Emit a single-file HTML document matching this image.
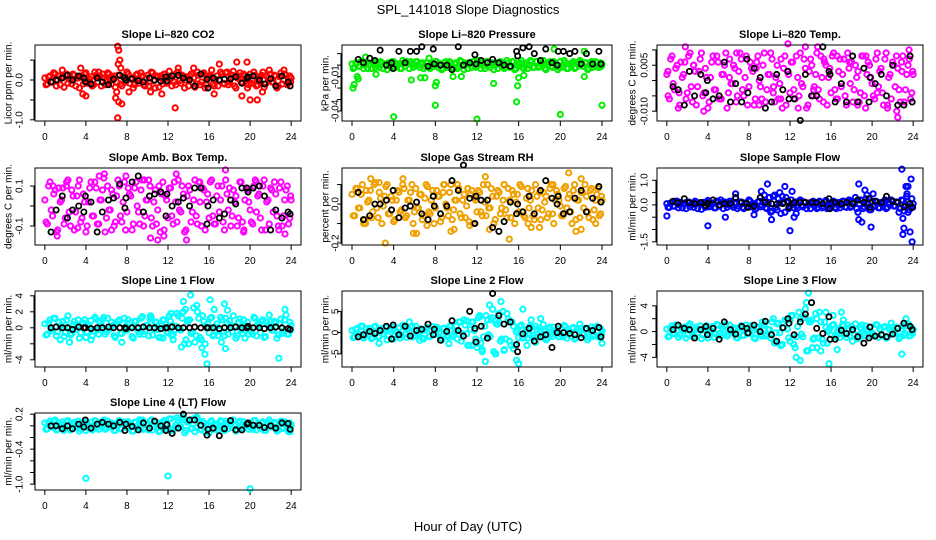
<!DOCTYPE html>
<html><head><meta charset="utf-8"><style>
html,body{margin:0;padding:0;background:#fff;}
svg{display:block;font-family:"Liberation Sans",sans-serif;}
</style></head><body>
<svg id="chart" width="936" height="540" viewBox="0 0 936 540" xmlns="http://www.w3.org/2000/svg">
<text x="468" y="14" text-anchor="middle" font-size="13">SPL_141018  Slope Diagnostics</text>
<text x="468" y="531" text-anchor="middle" font-size="13">Hour of Day (UTC)</text>
</svg>
<script>
const HC=[0,0.25,0.5,0.75,1,1.25,1.5,1.75,2,2.25,2.5,2.75,3,3.25,3.5,3.75,4,4.25,4.5,4.75,5,5.25,5.5,5.75,6,6.25,6.5,6.75,7,7.25,7.5,7.75,8,8.25,8.5,8.75,9,9.25,9.5,9.75,10,10.25,10.5,10.75,11,11.25,11.5,11.75,12,12.25,12.5,12.75,13,13.25,13.5,13.75,14,14.25,14.5,14.75,15,15.25,15.5,15.75,16,16.25,16.5,16.75,17,17.25,17.5,17.75,18,18.25,18.5,18.75,19,19.25,19.5,19.75,20,20.25,20.5,20.75,21,21.25,21.5,21.75,22,22.25,22.5,22.75,23,23.25,23.5,23.75,24];
const HD=[0.12,0.37,0.62,0.87,1.12,1.37,1.62,1.87,2.12,2.37,2.62,2.87,3.12,3.37,3.62,3.87,4.12,4.37,4.62,4.87,5.12,5.37,5.62,5.87,6.12,6.37,6.62,6.87,7.12,7.37,7.62,7.87,8.12,8.37,8.62,8.87,9.12,9.37,9.62,9.87,10.12,10.37,10.62,10.87,11.12,11.37,11.62,11.87,12.12,12.37,12.62,12.87,13.12,13.37,13.62,13.87,14.12,14.37,14.62,14.87,15.12,15.37,15.62,15.87,16.12,16.37,16.62,16.87,17.12,17.37,17.62,17.87,18.12,18.37,18.62,18.87,19.12,19.37,19.62,19.87,20.12,20.37,20.62,20.87,21.12,21.37,21.62,21.87,22.12,22.37,22.62,22.87,23.12,23.37,23.62,23.87,23.95];
const HK=[0.6,1.1,1.7,2.2,2.7,3.3,3.8,3.95,4.5,5.1,5.6,6.2,6.7,7.3,7.8,7.9,8.5,9.1,9.6,10.2,10.7,11.3,11.8,11.9,12.4,13,13.5,14.1,14.6,15.2,15.8,15.9,16.4,17,17.5,18.1,18.6,19.2,19.7,19.8,20.3,20.9,21.4,22,22.5,23.1,23.7,23.9];
const xTicks=[0,4,8,12,16,20,24];

const c1=[.05,-.1,.1,-.05,.15,0,-.12,.08,.12,-.08,.02,.15,-.15,.05,.1,-.1,.18,-.05,.08,-.12,.12,.2,-.15,.05,0,.15,-.1,.1,-.05,.12,-.15,.08,.2,-.08,.05,-.12,.15,0,.1,-.15,.12,-.05,.18,-.2,.08,.1,-.1,.15,-.05,.05,.12,-.12,.2,-.08,.1,0,-.15,.15,.05,-.1,.12,-.05,.18,-.12,.08,.25,-.15,.1,0,.15,-.1,.2,-.05,.12,-.15,.05,.18,-.08,.1,-.2,.15,0,.12,-.12,.08,.2,-.1,.05,.15,-.05,.1,-.15,.18,0,.12,-.08,.05];
const d1=[-.12,.08,-.05,.18,-.15,.1,.05,-.18,.15,.02,-.1,.12,.05,-.2,.1,.15,-.08,.02,-.15,.2,-.05,.1,.15,-.12,.18,-.02,.05,-.18,.12,-.1,.08,-.05,.15,.02,-.2,.12,-.08,.18,-.12,.05,-.15,.2,-.02,.1,-.18,.05,.15,-.08,.22,-.15,-.05,.18,-.02,.12,-.2,.08,.1,-.05,-.18,.2,-.12,.15,-.2,.05,.12,-.1,.02,-.15,.2,-.08,.18,-.12,.05,.22,-.2,.1,-.05,.15,.02,-.12,-.08,.2,-.15,.05,.12,-.18,.1,.25,-.05,.12,-.2,.08,-.1,.15,-.12,.1,-.05];
const k1=[-.05,0,.05,.12,0,.1,.05,-.05,-.1,.05,-.05,-.12,.02,.12,.05,0,.03,-.02,-.05,.05,0,-.03,.08,-.02,.1,.12,.05,0,-.15,.15,.02,-.2,.05,0,.02,.03,.08,-.08,.05,.08,.1,0,-.1,.03,-.15,.1,-.05,-.15];
const o1=[[7.1,.85],[7.2,.75],[7.3,.5],[7.15,.4],[7.4,.3],[7,-.3],[6.9,-.45],[7.2,-.55],[7.5,-.6],[7.1,-.95],[12.7,-.7],[13,.3],[17,.4],[18.7,.45],[19.7,.45],[20,-.5],[20.7,-.5],[19.2,-.4],[3.5,.3],[3.7,-.35],[4,-.4],[1.7,.25],[23.3,.25],[8.2,-.3],[10.3,-.3],[11.4,-.35],[21.2,-.3],[14.5,.3],[16.5,-.35]];

const c2=[.001,-.002,.002,-.001,.003,0,-.003,.001,.002,-.002,0,.003,-.003,.001,.002,-.002,.003,-.001,.001,-.003,.002,.003,-.003,.001,0,.003,-.002,.002,-.001,.002,-.003,.001,.003,-.002,.001,-.003,.003,0,.002,-.003,.002,-.001,.003,-.004,.001,.002,-.002,.003,-.001,.001,.002,-.003,.003,-.002,.002,0,-.003,.003,.001,-.002,.002,-.001,.003,-.003,.001,.004,-.003,.002,0,.003,-.002,.003,-.001,.002,-.003,.001,.003,-.002,.002,-.004,.003,0,.002,-.003,.001,.003,-.002,.001,.003,-.001,.002,-.003,.003,0,.002,-.002,.001];
const d2=[-.003,.002,-.001,.003,-.003,.002,.001,-.003,.003,0,-.002,.002,.001,-.004,.002,.003,-.002,0,-.003,.004,-.001,.002,.003,-.002,.003,0,.001,-.003,.002,-.002,.002,-.001,.003,0,-.004,.002,-.002,.003,-.002,.001,-.003,.004,0,.002,-.003,.001,.003,-.002,.004,-.003,-.001,.003,0,.002,-.004,.002,.002,-.001,-.003,.004,-.002,.003,-.004,.001,.002,-.002,0,-.003,.004,-.002,.003,-.002,.001,.004,-.004,.002,-.001,.003,0,-.002,-.002,.004,-.003,.001,.002,-.003,.002,.004,-.001,.002,-.004,.002,-.002,.003,-.002,.002,-.001];
const k2=[.005,.002,.006,.004,.013,0,.002,-.003,.012,.002,.012,.012,.016,-.001,.014,.001,0,0,-.004,.016,0,.002,.009,.001,.004,.002,.005,.002,0,-.001,.012,.008,.015,.016,.01,.004,.014,.002,0,.012,.012,.01,.012,.001,.01,.001,.012,.001];
const o2=[[.1,-.02],[.2,-.017],[.5,-.01],[.6,-.012],[4,-.045],[8,-.035],[8,-.018],[8.1,-.015],[12,-.047],[13.6,-.016],[15.8,-.032],[15.9,-.018],[16,-.011],[20,-.043],[24,-.035],[19.4,.014],[22.3,.012],[5.7,-.013],[6.6,-.011],[7,-.011],[9.7,-.01],[10.5,-.01],[1.3,.007],[7.4,.006],[2.3,-.008],[16.5,-.009],[22.3,-.01]];

const c3=[.002,-.006,.008,-.003,.005,-.008,.001,.006,-.004,.009,-.007,.003,-.002,.007,-.005,.004,-.009,.001,.008,-.003,.006,-.006,.002,.009,-.004,-.001,.005,-.007,.003,.007,-.005,.008,-.002,.004,-.008,.006,0,-.006,.009,-.003,.002,.007,-.007,.005,-.001,-.009,.008,.003,-.004,.006,-.006,.001,.009,-.002,.004,-.008,.007,-.005,.002,-.003,.008,-.007,.005,.001,-.004,.009,-.006,.003,-.002,.007,-.008,.004,.006,-.003,.001,-.007,.008,-.005,.002,.005,-.001,-.006,.009,.003,-.004,.007,-.008,.002,.006,-.002,.004,-.007,.008,-.003,.005,-.006,.002];
const d3=[-.005,.007,-.001,.004,-.009,.006,.002,-.006,.008,-.002,.005,-.008,.003,.009,-.004,.001,-.007,.006,-.003,.008,-.006,.002,.005,-.009,.007,-.001,.004,-.005,.009,-.003,.001,-.008,.006,.003,-.006,.008,-.002,.005,-.007,.002,.009,-.004,.001,-.006,.007,.004,-.008,.002,.006,-.003,.008,-.005,-.001,.007,-.009,.003,.005,-.002,.009,-.006,.001,.006,-.008,.004,.008,-.003,-.006,.007,.002,-.005,.009,-.001,-.007,.005,.003,-.004,.008,-.009,.006,.001,-.005,.007,-.002,.004,-.008,.009,.001,-.006,.005,.008,-.003,.006,-.007,.002,.007,-.004,.003];
const k3=[-.002,-.003,-.008,.003,-.005,.002,-.004,0,-.006,-.005,.006,-.007,-.001,-.007,.007,-.004,.004,.001,-.009,-.007,.002,-.003,.003,-.006,-.006,-.013,.002,-.005,-.005,.011,.003,.002,-.007,-.001,-.007,.008,-.007,.004,-.007,.001,-.001,.002,-.005,.005,-.008,-.008,.008,-.007];
const o3=[[.1,.003],[1.8,.011],[3.6,-.01],[11.8,.012],[12.8,-.009],[14.7,.011],[16.6,.008],[22.4,-.01],[22.5,-.012],[23.6,.01],[18.6,-.008],[21.5,-.009],[9,-.008],[6.8,.009],[13.5,.011],[1.2,-.004],[2.6,.005],[5.3,-.006],[8.7,.004],[10.4,-.002],[14.3,-.003],[17.8,.006],[20.5,-.004],[22.9,.003],[6.1,.001],[15.3,.007],[11.1,-.006],[19.4,.008]];

const c4=[.03,-.09,.12,-.05,.08,-.12,.02,.09,-.06,.13,-.1,.05,-.03,.1,-.08,.06,-.13,.02,.12,-.05,.09,-.09,.03,.14,-.06,-.02,.08,-.1,.05,.1,-.08,.12,-.03,.06,-.12,.09,0,-.09,.13,-.05,.03,.1,-.1,.08,-.02,-.13,.12,.05,-.06,.09,-.09,.02,.13,-.03,.06,-.12,.1,-.08,.03,-.05,.12,-.1,.08,.02,-.06,.13,-.09,.05,-.03,.1,-.12,.06,.09,-.05,.02,-.1,.12,-.08,.03,.08,-.02,-.09,.13,.05,-.06,.1,-.12,.03,.09,-.03,.06,-.1,.12,-.05,.08,-.09,.03];
const d4=[-.08,.1,-.02,.06,-.13,.09,.03,-.09,.12,-.03,.08,-.12,.05,.13,-.06,.02,-.1,.09,-.05,.12,-.09,.03,.08,-.13,.1,-.02,.06,-.08,.13,-.05,.02,-.12,.09,.05,-.09,.12,-.03,.08,-.1,.03,.13,-.06,.02,-.09,.1,.06,-.12,.03,.09,-.05,.12,-.08,-.02,.1,-.13,.05,.08,-.03,.13,-.09,.02,.09,-.12,.06,.12,-.05,-.09,.1,.03,-.08,.13,-.02,-.1,.08,.05,-.06,.12,-.13,.09,.02,-.08,.1,-.03,.06,-.12,.13,.02,-.09,.08,.12,-.05,.09,-.1,.03,.1,-.06,.05];
const k4=[-.13,-.02,.05,-.06,-.02,0,-.03,.05,.02,-.13,-.03,.03,.04,.11,-.01,.04,.12,.15,-.03,.05,.06,.07,-.05,.06,0,.02,.04,0,.09,.09,-.09,0,.03,-.06,-.04,.03,.01,.09,.09,.07,.09,.1,.05,-.12,-.02,-.06,-.03,-.04];
const o4=[[.8,.1],[1.2,-.15],[5.3,.15],[5.8,.16],[7.9,.15],[10.3,-.16],[11,-.17],[11.6,-.15],[12.8,.16],[13.8,-.17],[17.6,.18],[19.4,-.12],[22.8,-.12],[23.4,-.14],[3.2,-.11],[6.5,-.12],[9.7,.13],[15.1,.12],[20.6,.12],[2.1,.1]];

const c5=[.05,-.06,.08,-.02,.1,-.08,.01,.07,-.04,.11,-.07,.03,-.01,.09,-.05,.04,-.09,.02,.06,-.03,.08,-.06,.02,.1,-.04,-.02,.05,-.08,.03,.09,-.05,.07,-.02,.04,-.09,.06,0,-.06,.1,-.03,.02,.08,-.07,.05,-.01,-.09,.07,.03,-.04,.06,-.06,.01,.1,-.02,.04,-.08,.07,-.05,.02,-.03,.08,-.07,.05,.01,-.04,.09,-.06,.03,-.02,.07,-.08,.04,.06,-.03,.01,-.07,.08,-.05,.02,.05,-.01,-.06,.09,.03,-.04,.07,-.08,.02,.06,-.02,.04,-.07,.08,-.03,.05,-.06,.02];
const d5=[-.06,.08,-.02,.05,-.1,.07,.02,-.07,.1,-.02,.06,-.1,.04,.1,-.05,.02,-.08,.07,-.04,.1,-.07,.02,.06,-.1,.08,-.02,.05,-.06,.1,-.04,.02,-.1,.07,.04,-.07,.1,-.02,.06,-.08,.02,.1,-.05,.02,-.07,.08,.05,-.1,.02,.07,-.04,.1,-.06,-.02,.08,-.1,.04,.06,-.02,.1,-.07,.02,.07,-.1,.05,.1,-.04,-.07,.08,.02,-.06,.1,-.02,-.08,.06,.04,-.05,.1,-.1,.07,.02,-.06,.08,-.02,.05,-.1,.1,.02,-.07,.06,.1,-.04,.07,-.08,.02,.08,-.05,.04];
const k5=[.06,-.08,-.06,0,0,.02,-.03,.07,-.07,-.02,-.01,.01,-.05,-.08,.04,-.01,-.05,-.01,.12,.07,.2,.03,-.1,.04,.02,.02,-.12,-.14,-.09,.01,-.05,0,-.04,.04,-.05,.07,.12,.03,0,.04,-.05,-.04,.03,.07,-.04,.03,.09,.01];
const o5=[[3.2,-.2],[15.1,-.18],[21.5,-.14],[22,-.13],[9.5,-.14],[9.8,-.13],[5.9,-.15],[6.2,-.15],[13.2,-.13],[17.2,-.12],[18,-.12],[1.8,.13],[2.6,.11],[12.8,.14],[20.8,.16],[22,.13],[7.2,-.11],[4.9,.13],[1.3,-.1],[8.8,.1],[11.3,-.11],[14.6,.1],[16.9,-.1],[19.3,.1],[23.4,-.1]];

const c6=[.05,-.1,.1,-.05,.15,0,-.12,.08,.12,-.08,.02,.15,-.15,.05,.1,-.1,.18,-.05,.08,-.12,.12,.2,-.15,.05,0,.15,-.1,.1,-.05,.12,-.15,.08,.2,-.08,.05,-.12,.15,0,.1,-.15,.3,-.25,.4,-.2,.08,.35,-.3,.15,-.05,.05,.12,-.12,.2,-.08,.1,0,-.15,.15,.05,-.1,.12,-.05,.18,-.12,.08,.15,-.15,.1,0,.15,-.1,.2,-.05,.12,-.15,.05,.18,-.08,.1,-.2,.15,0,.12,-.12,.08,.2,-.1,.05,.15,-.05,.1,-.15,.18,0,.12,-.08,.05];
const d6=[-.1,.08,-.05,.15,-.12,.1,.05,-.15,.12,.02,-.1,.12,.05,-.18,.1,.12,-.08,.02,-.12,.15,-.05,.1,.12,-.1,.15,-.02,.05,-.15,.12,-.1,.08,-.05,.15,.02,-.18,.12,-.08,.15,-.12,.05,-.3,.35,-.1,.25,-.35,.1,.3,-.15,.2,-.12,-.05,.15,-.02,.12,-.15,.08,.1,-.05,-.15,.15,-.12,.12,-.15,.05,.12,-.1,.02,-.12,.15,-.08,.15,-.1,.05,.3,-.3,.2,-.15,.25,.02,-.2,-.08,.15,-.12,.05,.12,-.15,.1,.2,-.05,.12,-.3,.2,-.25,.35,-.2,.25,-.1];
const k6=[.15,.08,.25,.1,.05,.1,-.03,.05,.2,0,.05,.05,.3,.1,.05,-.1,-.05,.3,.1,.05,.03,.05,.15,-.1,.1,.1,.1,.1,.1,.05,.25,-.15,.1,.05,.1,.05,.2,.1,.25,-.1,.15,.1,.35,.15,.1,-.08,.05,-.1];
const o6=[[0,-.45],[4,-.85],[5.7,-.5],[9.5,.4],[9.8,.85],[10.2,-.6],[11,.5],[11.5,.75],[12,-1.05],[12.2,.55],[12.4,-.5],[12.6,-.35],[9.2,.55],[8.5,-.4],[18.7,.85],[18.7,-.6],[19,-.7],[19.3,.6],[19.5,.4],[19.9,-.9],[20.1,.45],[22.9,1.45],[23,-.55],[23.1,-.95],[23.3,.75],[23.5,.75],[23.5,-.3],[23.7,-1.1],[23.8,1.05],[23.9,-1.5],[23,-1.2],[23.4,.45],[6.7,.45]];

const c7=[.5,-.8,1,-.3,1.2,-.5,.2,.8,-.6,1.5,-.9,.4,-.2,1,-.6,.6,-1.2,.3,.9,-.4,1.1,-.8,.3,1.3,-.5,-.2,.7,-1,.5,1,-.7,1.2,-.3,.6,-1.1,.8,0,-.8,1.4,-.4,.3,1.1,-.9,.7,-.2,-1.2,1,.4,-.6,.8,-.8,.2,1.5,-.3,2,-1.5,1,-.7,2.5,-1,1.2,-1.5,.8,.1,-.6,1.3,-.9,.5,-.3,1,-1,.6,.9,-.5,.2,-1,1.1,-.7,.3,.7,-.2,-.8,1.2,.4,-.6,1,-1.1,.3,.8,-.3,.6,-.9,1.1,-.4,1.6,-.8,.3];
const d7=[-.9,.6,-.3,1.2,-1,.7,.3,-1.1,1,.1,-.7,.8,.3,-1.3,.6,1,-.5,.1,-1,1.3,-.3,.7,1,-.8,1.2,-.1,.3,-1.2,.8,-.7,.5,-.3,1,.1,-1.3,.8,-.5,1.2,-.8,.3,-1,1.3,-.1,.7,-1.2,.3,1,-.5,1.5,-1,-.3,1.8,-.1,1.2,-2,.8,1,-.5,-1.8,2,-1.2,1.5,-2,.5,1.2,-1,.1,-1,1.3,-.5,1.2,-.8,.3,1.5,-1.3,.7,-.3,1,.1,-.8,-.5,1.3,-1,.3,.8,-1.2,.7,1.6,-.3,.8,-1.3,.5,-.7,1,-.8,.7,-.3];
const k7=[0,.1,0,0,-.2,.1,0,0,-.1,0,0,.1,0,0,0,-.1,0,0,.1,0,0,-.1,0,0,.1,0,0,0,.1,0,0,0,0,-.1,0,0,.1,0,0,.2,0,0,-.1,0,.1,0,-.1,-.2];
const o7=[[1.5,-1.5],[2.4,-1.8],[4.5,-1.5],[12.3,1.8],[12.5,-1.5],[13.3,-2.4],[13.5,3.3],[13.7,2.3],[14,-2],[14.2,4.1],[14.8,2.8],[15.3,-2.5],[15.6,-3.3],[15.8,-4.5],[16.1,3.5],[16.5,2.3],[17.2,-1.8],[17.6,-2.6],[17.8,2.2],[17.5,3],[22.8,-3.8],[23.4,2.3],[11.5,-1.3],[10.3,1.5],[7.5,-1.8],[19.5,-1.3]];

const c8=[.5,-1,1,-.5,1.5,-.8,.2,1,-1.2,1.5,-1,.6,-.3,1.2,-.8,.8,-1.5,.3,1.1,-.6,1.3,-1.1,.4,1.5,-.7,-.3,.9,-1.3,.6,1.2,-.9,1.4,-.4,.8,-1.4,1,0,-1,1.6,-.5,.4,2.5,-2,3,-.3,-3,2.5,.5,-2.5,4,-4,1.5,3,-1,3.5,-5,2,-2,5,-1.5,2.5,-3,1.5,.2,-1.2,1.8,-1.1,.7,-.4,1.3,-1.2,.8,1.1,-.7,.3,-1.4,1.3,-.9,.4,.9,-.3,-1,1.4,.5,-.8,1.2,-1.3,.4,1,-.4,.8,-1.1,1.3,-.5,1.5,-1,.4];
const d8=[-1.2,.8,-.4,1.5,-1.3,.9,.4,-1.4,1.3,.1,-.9,1,.4,-1.7,.8,1.3,-.6,.1,-1.3,1.7,-.4,.9,1.3,-1,1.5,-.1,.4,-1.5,1,-.9,.6,-.4,1.3,.1,-1.7,1,-.6,1.5,-1,.4,-1.5,2.5,-.3,1.8,-3,.8,2.5,-1.5,3.5,-2.5,-1,4,-.5,3,-4.5,2,2.5,-1.5,-4,4.5,-2,2.5,-3,.7,1.5,-1.3,.1,-1.3,1.7,-.6,1.5,-1,.4,1.9,-1.7,.9,-.4,1.3,.1,-1,-.6,1.7,-1.3,.4,1,-1.5,.9,2,-.4,1,-1.7,.6,-.9,1.3,-1,.9,-.4];
const k8=[-1,-.5,.3,-.2,.5,1.5,-1.5,1.8,-.5,1.5,-.8,.5,.8,2,-.5,.8,-1.8,.3,2.8,.5,-.8,5,1,-2.2,1.5,-1.3,9.2,4,2,2.5,-2.8,-4.5,-.3,1,-2,-1,-.5,-3.5,0,1.5,0,-.2,-.5,-1.2,1,.5,1.2,-1];
const o8=[[2.6,-2.5],[5.5,2.5],[6.5,-1.8],[9.3,-2.6],[10,1.5],[11,2.8],[11.5,-3],[12,-3.5],[12.3,3.8],[12.5,-4.5],[12.8,-6.8],[13.2,6.5],[13.5,5.5],[13.8,-5],[14.1,4.5],[14.3,7.3],[14.6,-4.2],[15,3.2],[15.5,-3.8],[15.8,-6.5],[16,-7.3],[16.4,5.5],[16.8,-3],[17.2,3],[17.6,-2.3],[18.1,3.3],[24,-2.5]];

const c9=[.4,-.7,.9,-.3,1,-.5,.2,.7,-.5,1.2,-.8,.3,-.2,.9,-.5,.5,-1,.2,.8,-.4,1,-.7,.3,1.1,-.4,-.2,.6,-.9,.4,.9,-.6,1,-.3,.5,-1,.7,0,-.7,1.2,-.4,.3,1.5,-1.5,1.2,-.2,-2,1.8,.4,-1.5,2.5,-2.5,.8,2,-.8,2.2,-3,1.5,-1.2,2.8,-1,1.5,-1.8,.7,.1,-.5,1.1,-.8,.4,-.3,.9,-.9,.5,.8,-.5,.2,-.9,1,-.6,.3,.7,-.2,-.7,1,.4,-.5,.8,-.9,.3,.7,-.3,.5,-.8,.9,-.3,1.2,-.6,.3];
const d9=[-.8,.5,-.3,1,-.9,.6,.3,-1,.9,.1,-.6,.7,.3,-1.1,.5,.9,-.4,.1,-.9,1.1,-.3,.6,.9,-.7,1,-.1,.3,-1,.7,-.6,.4,-.3,.9,.1,-1.1,.7,-.4,1,-.7,.3,-1,2,-.2,1.3,-2.2,.6,1.8,-1,2.5,-2,-.8,3,-.4,2.2,-3,1.5,1.8,-1,-2.5,3,-1.2,1.5,-1.8,.5,1,-.8,.1,-.9,1.1,-.4,1,-.7,.3,1.2,-1.1,.6,-.3,.9,.1,-.7,-.4,1.1,-.9,.3,.7,-1,.6,1.3,-.3,.7,-1.1,.4,-.6,.9,-.7,.6,-.3];
const k9=[.3,1,.5,.3,-1,.3,.8,-.5,.5,-1.2,1.5,.3,-.4,.8,.5,-.2,1,0,1.6,-.5,-1.5,.6,2,1.3,-.5,1.5,2.7,4.5,.5,-.3,2.3,-1.2,-1.2,.2,-.3,.3,-.8,-1.8,-1,.7,-.7,-.5,-.8,-.4,.5,1.3,.8,.3];
const o9=[[12.6,-4],[13,-4.5],[13.5,3.5],[13.6,4.5],[13.8,6],[14.2,-2.5],[14.6,2],[15,-3],[15.5,3],[15.8,-5],[16.2,2.5],[16.6,-2.8],[17,3],[17.2,1.8],[18.1,-1.5],[22.9,-3.5],[23.3,2],[10.5,-1.8],[9.3,1.5],[12,1.8]];

const c10=[.05,-.05,.08,-.02,.1,-.06,.01,.07,-.04,.09,-.07,.03,-.01,.08,-.05,.04,-.08,.02,.06,-.03,.08,-.06,.02,.1,-.04,-.02,.05,-.08,.03,.09,-.05,.07,-.02,.04,-.09,.06,0,-.06,.1,-.03,.02,.08,-.07,.05,-.01,-.09,.07,.03,-.04,.12,-.06,.01,.1,-.02,.14,-.08,.07,-.05,.12,-.03,.08,-.07,.05,.01,-.04,.09,-.06,.03,-.02,.07,-.08,.04,.06,-.03,.01,-.07,.08,-.05,.02,.05,-.01,-.06,.09,.03,-.04,.07,-.08,.02,.06,-.02,.04,-.07,.08,-.03,.05,-.1,.02];
const d10=[-.06,.04,-.02,.08,-.07,.05,.02,-.08,.07,0,-.05,.06,.02,-.09,.04,.07,-.03,0,-.07,.09,-.02,.05,.07,-.06,.08,0,.02,-.08,.06,-.05,.03,-.02,.07,0,-.09,.06,-.03,.08,-.06,.02,-.07,.1,-.01,.06,-.1,.04,.09,-.05,.12,-.08,-.03,.14,-.02,.1,-.12,.06,.08,-.04,-.1,.12,-.06,.08,-.1,.03,.06,-.05,0,-.07,.09,-.03,.08,-.05,.02,.1,-.09,.05,-.02,.07,0,-.06,-.03,.09,-.07,.02,.05,-.08,.05,.1,-.02,.06,-.09,.03,-.05,.07,-.06,.05,-.02];
const k10=[0,0,-.05,0,-.05,.03,-.02,.1,-.04,.03,.06,.03,0,.06,-.08,.03,-.01,-.07,.05,-.04,.08,0,-.08,.02,-.13,-.04,.2,.1,.1,.01,-.16,-.06,-.04,-.17,-.05,.09,-.07,-.07,.03,.05,.01,.01,-.03,0,-.04,.05,.04,-.06];
const o10=[[4,-.9],[12,-.86],[20,-1.08],[16,-.12],[14.8,.15],[9.2,.1],[23.9,-.1]];

const panelTitles=["Slope Li\u2013820 CO2","Slope Li\u2013820 Pressure","Slope Li\u2013820 Temp.","Slope Amb. Box Temp.","Slope Gas Stream RH","Slope Sample Flow","Slope Line 1 Flow","Slope Line 2 Flow","Slope Line 3 Flow","Slope Line 4 (LT) Flow"];
const yTitles=["Licor ppm per min.","kPa per min.","degrees C per min.","degrees C per min.","percent per min.","ml/min per min.","ml/min per min.","ml/min per min.","ml/min per min.","ml/min per min."];
const yDomains=[[-1.03,.88],[-.0487,.0175],[-.0132,.0116],[-.195,.19],[-.21,.185],[-1.63,1.5],[-4.9,4.6],[-8.1,9.8],[-5.5,6.3],[-1.1,.22]];
const yTickVals=[[-1,-.5,0,.5],[-.04,-.03,-.02,-.01,0,.01],[-.01,-.005,0,.005,.01],[-.1,0,.1],[-.2,-.1,0,.1],[-1.5,-1,-.5,0,.5,1],[-4,-2,0,2,4],[-5,0,5],[-4,-2,0,2,4],[-1,-.8,-.6,-.4,-.2,0,.2]];
const yTickLabels=[["-1.0","","0.0",""],["-0.04","","","-0.01","",""],["-0.010","","","0.005",""],["-0.1","","0.1"],["-0.2","","0.0",""],["-1.5","","","0.0","","1.0"],["-4","","0","2","4"],["-5","0","5"],["-4","","0","","4"],["-1.0","","","-0.4","","","0.2"]];
const colored=[c1,c2,c3,c4,c5,c6,c7,c8,c9,c10];
const colored2=[d1,d2,d3,d4,d5,d6,d7,d8,d9,d10];
const blacks=[k1,k2,k3,k4,k5,k6,k7,k8,k9,k10];
const outliers=[o1,o2,o3,o4,o5,o6,o7,o8,o9,o10];
const colors=["#ff0000","#00ee00","#ff00ff","#ff00ff","#f0a000","#0000ff","#00ffff","#00ffff","#00ffff","#00ffff"];

const NS="http://www.w3.org/2000/svg";
const svg=document.getElementById('chart');
const cols=[[35,301,9,20],[342,612,326,336],[657,923,633,645]];
const rows=[[45,121],[168,245],[291,367],[413,490]];
const xDom=[-0.96,24.96];
function mk(tag,attrs,parent){const e=document.createElementNS(NS,tag);for(const k in attrs)e.setAttribute(k,attrs[k]);(parent||svg).appendChild(e);return e;}

for(let p=0;p<10;p++){
  const col=cols[p%3], row=rows[Math.floor(p/3)];
  const L=col[0],R=col[1],T=row[0],B=row[1];
  const xs=v=>L+(v-xDom[0])/(xDom[1]-xDom[0])*(R-L);
  const yd=yDomains[p];
  const ys=v=>B-(v-yd[0])/(yd[1]-yd[0])*(B-T);
  const g=mk('g',{});
  
  
  const t=mk('text',{x:(L+R)/2,y:T-7,'text-anchor':'middle','font-size':'11','font-weight':'bold'},g);
  t.textContent=panelTitles[p];
  
  
  const yl=mk('text',{x:col[2],y:(T+B)/2,'text-anchor':'middle','font-size':'10',transform:'rotate(-90 '+col[2]+' '+(T+B)/2+')','dominant-baseline':'central'},g);
  yl.textContent=yTitles[p];
  
  
  yTickVals[p].forEach((v,i)=>{
    const y=ys(v);
    const tk=mk('line',{x1:L-5,x2:L,y1:y,y2:y,stroke:'#000','stroke-width':1},g);
    
    
    const lab=yTickLabels[p][i];
    if(lab){
      const tx=mk('text',{x:col[3],y:y,'text-anchor':'middle','font-size':'10','dominant-baseline':'central',transform:'rotate(-90 '+col[3]+' '+y+')'},g);
      tx.textContent=lab;
      
      
    }
  });
  const ya=mk('line',{x1:L-1,x2:L-1,y1:ys(yTickVals[p][0]),y2:ys(yTickVals[p][yTickVals[p].length-1]),stroke:'#000'},g);
  
  
  xTicks.forEach(v=>{
    const x=xs(v);
    const tk=mk('line',{x1:x,x2:x,y1:B,y2:B+5,stroke:'#000'},g);
    
    
    const tx=mk('text',{x:x,y:B+19,'text-anchor':'middle','font-size':'10'},g);
    tx.textContent=String(v);
    
    
  });
  const pts=mk('g',{fill:'none',stroke:colors[p],'stroke-width':2},g);
  
  
  const cv=colored[p], n=Math.min(cv.length,HC.length);
  for(let i=0;i<n;i++){
    const c=mk('circle',{cx:xs(HC[i]),cy:ys(cv[i]),r:2.6},pts);
    
    
  }
  const dv=colored2[p], n2=Math.min(dv.length,HD.length);
  for(let i=0;i<n2;i++){
    const c=mk('circle',{cx:xs(HD[i]),cy:ys(dv[i]),r:2.6},pts);
    
    
  }
  outliers[p].forEach(pr=>{
    const c=mk('circle',{cx:xs(pr[0]),cy:ys(pr[1]),r:2.6},pts);
    
    
  });
  const kp=mk('g',{fill:'none',stroke:'#000','stroke-width':1.8},g);
  
  
  const kv=blacks[p], m=Math.min(kv.length,HK.length);
  for(let i=0;i<m;i++){
    const c=mk('circle',{cx:xs(HK[i]),cy:ys(kv[i]),r:2.6},kp);
    
    
  }
  const box=mk('rect',{x:L,y:T,width:R-L,height:B-T,fill:'none',stroke:'#000','stroke-width':1},g);
  
  
}
</script>
</body></html>
